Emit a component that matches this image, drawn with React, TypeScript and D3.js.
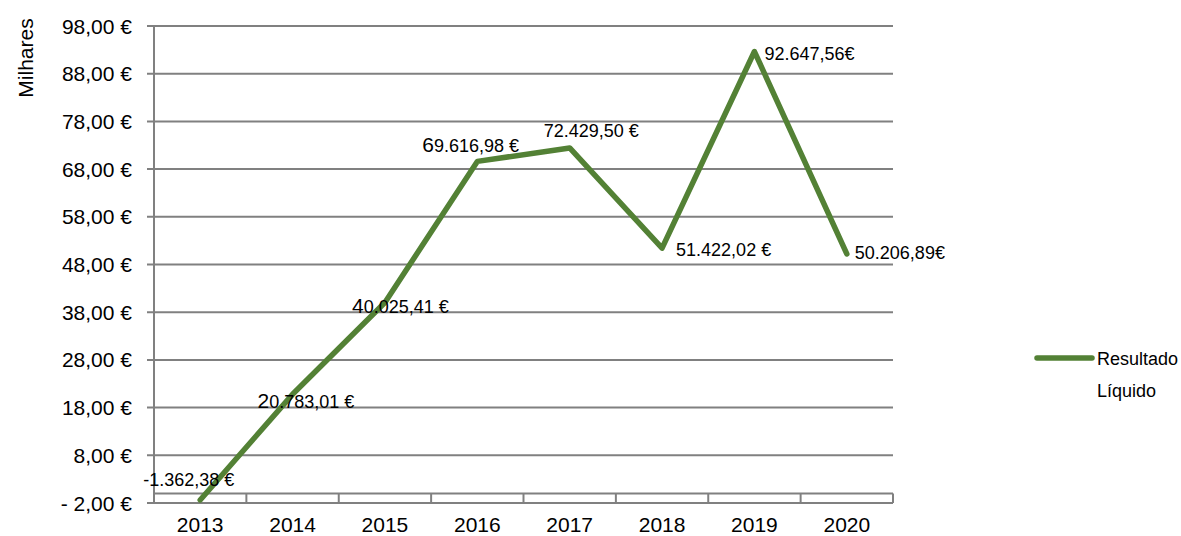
import React from "react";
import * as d3 from "d3";

// values in thousands of euros
const years = ["2013", "2014", "2015", "2016", "2017", "2018", "2019", "2020"];
const resultado = [-1.36238, 20.78301, 40.02541, 69.61698, 72.4295, 51.42202, 92.64756, 50.20689];
const valueLabels = [
  "-1.362,38 €",
  "20.783,01 €",
  "40.025,41 €",
  "69.616,98 €",
  "72.429,50 €",
  "51.422,02 €",
  "92.647,56€",
  "50.206,89€",
];
const yTicks = [-2, 8, 18, 28, 38, 48, 58, 68, 78, 88, 98];
const yTickLabels = ["- 2,00 €", "8,00 €", "18,00 €", "28,00 €", "38,00 €", "48,00 €", "58,00 €", "68,00 €", "78,00 €", "88,00 €", "98,00 €"];

// label placement relative to each point (dx, dy to baseline) and whether the first glyph is oversized
const labelOffsets: [number, number, boolean][] = [
  [-57, -14, false],
  [-35, 14, true],
  [-33, 10, true],
  [-55, -9, true],
  [-26, -11, false],
  [14, 8, false],
  [10, 8.5, false],
  [8, 5, false],
];

const W = 1181;
const H = 536;
const margin = { left: 154, right: 288, top: 26, bottom: 33 };
const font = "'Liberation Sans', Arial, sans-serif";
const gridColor = "#808080";
const lineColor = "#538135";

export default function App() {
  const x = d3
    .scaleBand<string>()
    .domain(years)
    .range([margin.left, W - margin.right]);
  const y = d3
    .scaleLinear()
    .domain([-2, 98])
    .range([H - margin.bottom, margin.top]);

  const line = d3
    .line<number>()
    .x((_, i) => (x(years[i]) as number) + x.bandwidth() / 2)
    .y((d) => y(d));

  const x0 = margin.left;
  const x1 = W - margin.right;
  const yZero = y(0);
  const yBottom = y(-2);

  return (
    <svg
      width={W}
      height={H}
      style={{ position: "absolute", left: 0, top: 0, background: "#fff" }}
      fontFamily={font}
    >
      {/* gridlines + y ticks */}
      {yTicks.map((t, i) => (
        <g key={t}>
          <line x1={x0 - 7} x2={x1} y1={y(t)} y2={y(t)} stroke={gridColor} strokeWidth={2} />
          <text x={132} y={y(t) + 7.5} textAnchor="end" fontSize={21} fill="#000">
            {yTickLabels[i]}
          </text>
        </g>
      ))}
      {/* y axis */}
      <line x1={x0} x2={x0} y1={margin.top} y2={yBottom} stroke={gridColor} strokeWidth={2} />
      {/* category axis crossing at 0 */}
      <line x1={x0} x2={x1} y1={yZero} y2={yZero} stroke={gridColor} strokeWidth={2} />
      {years.slice(1).map((yr) => (
        <line
          key={"tk" + yr}
          x1={x(yr) as number}
          x2={x(yr) as number}
          y1={yZero}
          y2={yBottom}
          stroke={gridColor}
          strokeWidth={2}
        />
      ))}
      <line x1={x1} x2={x1} y1={yZero} y2={yBottom} stroke={gridColor} strokeWidth={2} />
      {years.map((yr) => (
        <text
          key={"lb" + yr}
          x={(x(yr) as number) + x.bandwidth() / 2}
          y={532}
          textAnchor="middle"
          fontSize={21}
          fill="#000"
        >
          {yr}
        </text>
      ))}
      <text
        transform={`translate(33, 58) rotate(-90)`}
        textAnchor="middle"
        fontSize={21}
        fill="#000"
      >
        Milhares
      </text>

      {/* series */}
      <path
        d={line(resultado) as string}
        fill="none"
        stroke={lineColor}
        strokeWidth={5.5}
        strokeLinejoin="round"
        strokeLinecap="round"
      />

      {/* data labels */}
      {resultado.map((v, i) => {
        const [dx, dy, big] = labelOffsets[i];
        const px = (x(years[i]) as number) + x.bandwidth() / 2;
        const lbl = valueLabels[i];
        return (
          <text key={"v" + i} x={px + dx} y={y(v) + dy} fontSize={18} fill="#000">
            {big ? (
              <>
                <tspan fontSize={21}>{lbl[0]}</tspan>
                {lbl.slice(1)}
              </>
            ) : (
              lbl
            )}
          </text>
        );
      })}

      {/* legend */}
      <line x1={1037} x2={1092} y1={358} y2={358} stroke={lineColor} strokeWidth={5.5} strokeLinecap="round" />
      <text x={1097} y={365} fontSize={18} fill="#000">
        Resultado
      </text>
      <text x={1097} y={397} fontSize={18} fill="#000">
        Líquido
      </text>
    </svg>
  );
}
